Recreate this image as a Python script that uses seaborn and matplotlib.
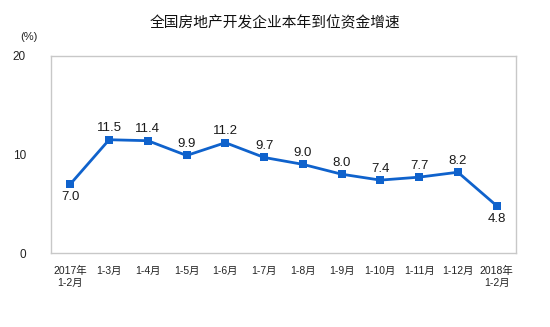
import matplotlib
matplotlib.use("Agg")
import matplotlib.pyplot as plt
import seaborn as sns
import pandas as pd

months = ["2017年\n1-2月", "1-3月", "1-4月", "1-5月", "1-6月", "1-7月", "1-8月",
          "1-9月", "1-10月", "1-11月", "1-12月", "2018年\n1-2月"]
growth = [7.0, 11.5, 11.4, 9.9, 11.2, 9.7, 9.0, 8.0, 7.4, 7.7, 8.2, 4.8]
label_below = [True, False, False, False, False, False, False, False, False, False, False, True]

sns.set_theme(style="white")
plt.rcParams["font.family"] = ["Liberation Sans", "Noto Sans CJK SC", "DejaVu Sans"]

df = pd.DataFrame({"month": months, "growth": growth})
df["pos"] = range(len(df))

fig = plt.figure(figsize=(5.5, 3.27), dpi=100)
ax = fig.add_axes([51 / 550, 1 - 253 / 327, 465 / 550, 197 / 327])

line_color = "#0f62cc"
sns.lineplot(data=df, x="pos", y="growth", ax=ax, color=line_color, linewidth=2,
             marker="s", markersize=5.5, markeredgewidth=0, legend=False)

for x, y, below in zip(df["pos"], growth, label_below):
    ax.annotate(f"{y:.1f}", (x, y), xytext=(0, -5 if below else 4),
                textcoords="offset points", ha="center",
                va="top" if below else "bottom", fontsize=9.5, color="#1a1a1a")

ax.set_xlim(-0.5, len(months) - 0.5)
ax.set_ylim(0, 20)
ax.set_yticks([0, 10, 20])
ax.set_yticklabels(["0", "10", "20"], fontsize=8.5, color="#222222")
ax.set_xticks([i + 0.5 for i in range(len(months) - 1)], minor=False)
ax.set_xticklabels([])
ax.set_xticks(range(len(months)), minor=True)
ax.set_xticklabels(months, minor=True, fontsize=7.5, color="#222222", linespacing=1.3)
ax.tick_params(axis="x", which="major", length=4, color="#bbbbbb", width=0.8, direction="in")
ax.tick_params(axis="x", which="minor", length=0, pad=9)
ax.tick_params(axis="y", length=4, color="#bbbbbb", width=0.8, direction="out", pad=14)
for lbl in ax.get_xticklabels(minor=True):
    lbl.set_verticalalignment("top")
for s in ax.spines.values():
    s.set_color("#c8c8c8")
    s.set_linewidth(1)
ax.set_xlabel("")
ax.set_ylabel("")

fig.text(20 / 550, 1 - 37 / 327, "(%)", fontsize=8, ha="left", va="center", color="#222222")
fig.text(275 / 550, 1 - 23 / 327, "全国房地产开发企业本年到位资金增速", fontsize=10.6,
         ha="center", va="center", color="#111111",
         family=["Noto Sans CJK SC", "DejaVu Sans"])

fig.savefig("out.png", dpi=100)
